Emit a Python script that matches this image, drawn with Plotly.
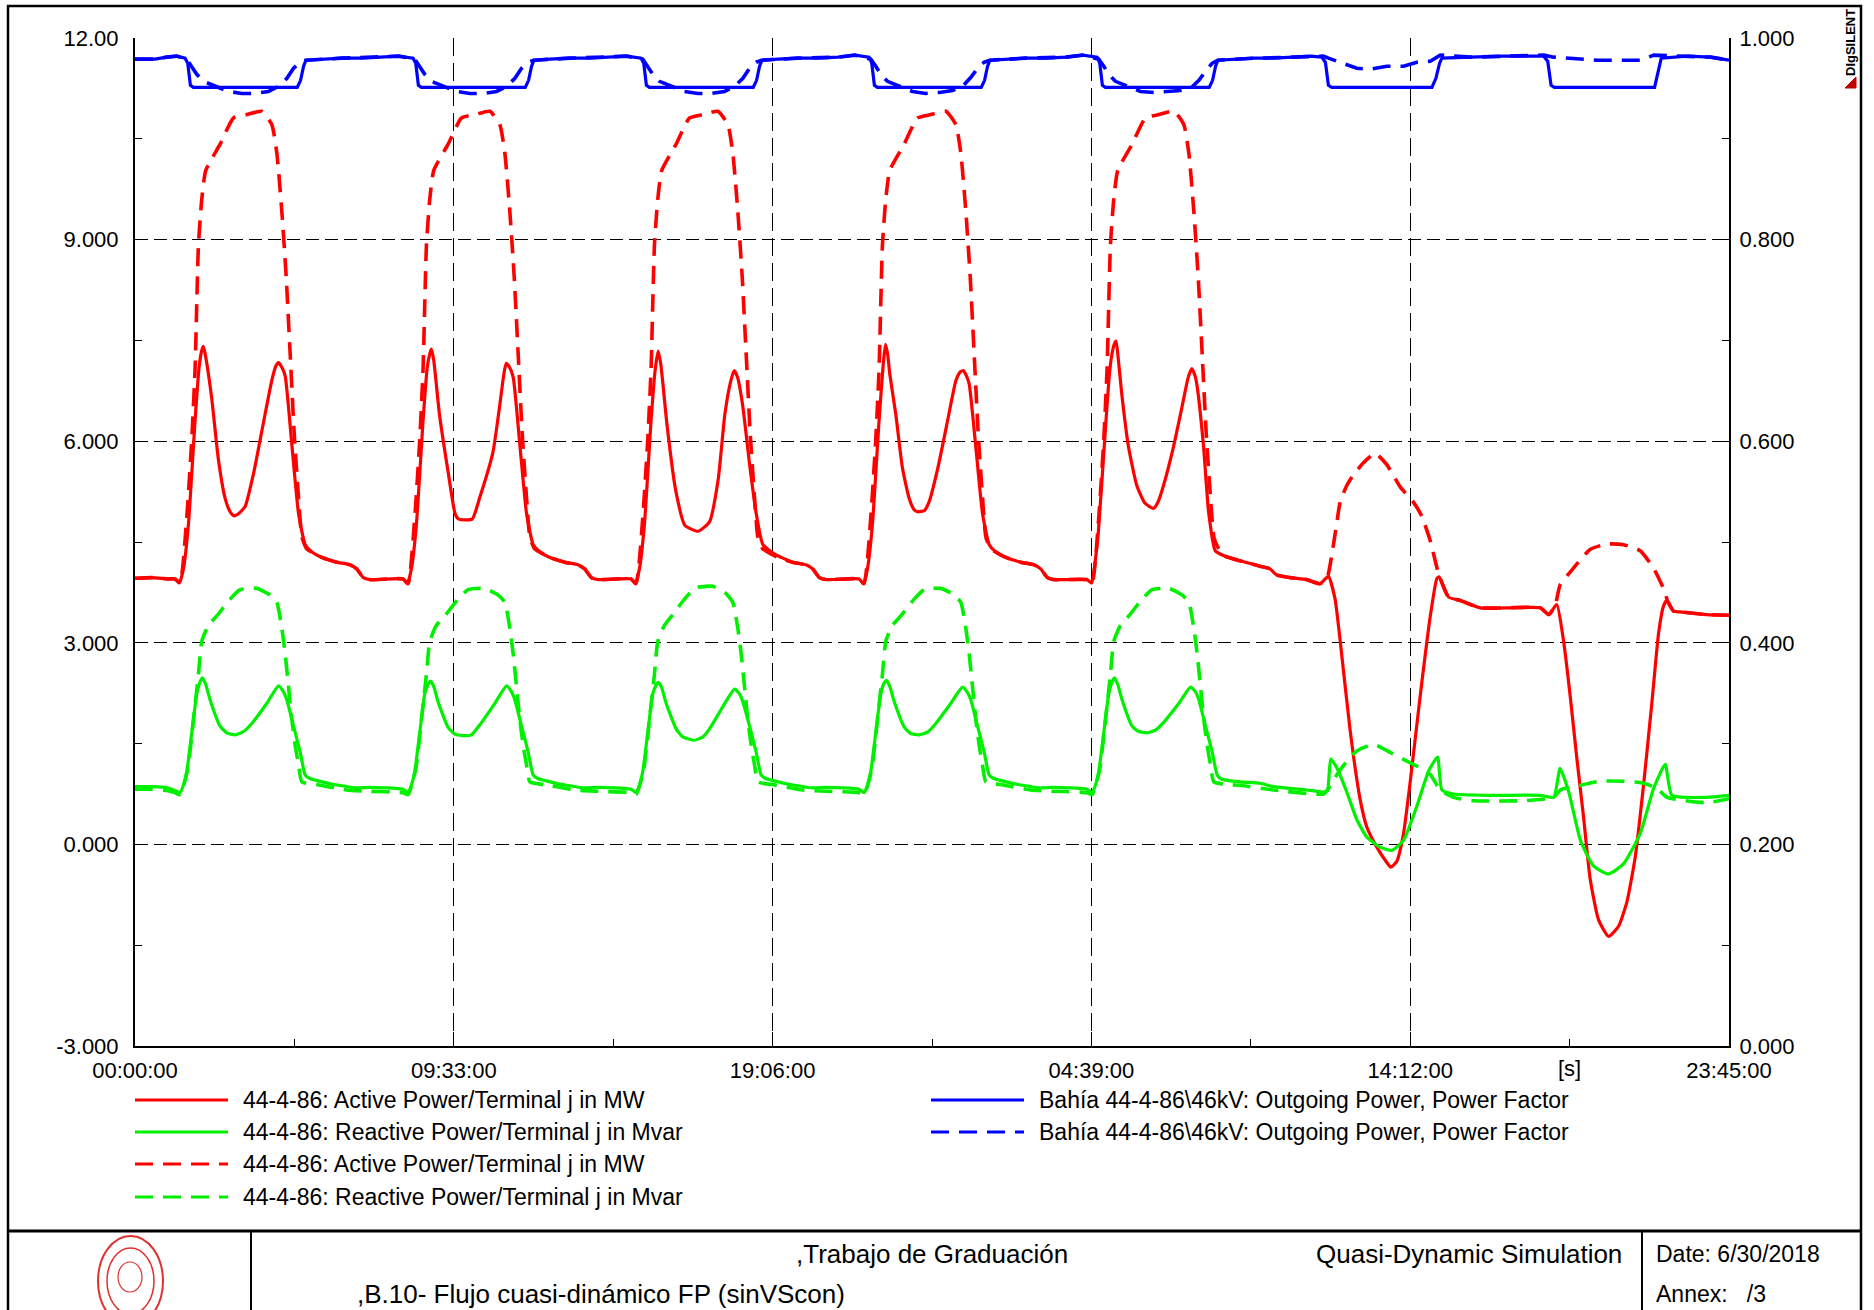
import plotly.graph_objects as go

# ---------------- axis tick definitions (time in hours from start) ----------------
x_tick_hours = [0, 9.55, 19.10, 28.65, 38.20, 47.75]
x_tick_labels = ["00:00:00", "09:33:00", "19:06:00", "04:39:00", "14:12:00", "23:45:00"]
x_minor_hours = [4.775, 14.325, 23.875, 33.425, 42.975]
y_left_ticks = [-3, 0, 3, 6, 9, 12]
y_left_labels = ["-3.000", "0.000", "3.000", "6.000", "9.000", "12.00"]
y_left_minor = [-1.5, 1.5, 4.5, 7.5, 10.5]
y_right_ticks = [0, 0.2, 0.4, 0.6, 0.8, 1.0]
y_right_labels = ["0.000", "0.200", "0.400", "0.600", "0.800", "1.000"]
y_right_minor = [0.1, 0.3, 0.5, 0.7, 0.9]

# ---------------- series (hours, value) ----------------
active_solid = [
    (0.00, 3.96), (0.50, 3.97), (1.00, 3.95),
    (1.20, 3.95), (1.33, 3.89), (1.45, 4.10), (1.60, 4.76), (1.80, 6.31), (1.92, 7.10), (2.00, 7.35), (2.05, 7.41),
    (2.12, 7.25), (2.30, 6.63), (2.50, 5.72), (2.70, 5.15), (2.85, 4.95), (2.96, 4.89), (3.10, 4.92), (3.30, 5.03),
    (3.56, 5.54), (3.83, 6.23), (4.10, 6.91), (4.22, 7.12), (4.30, 7.17), (4.40, 7.10), (4.50, 6.97), (4.70, 5.94),
    (4.90, 4.92), (5.10, 4.46), (5.30, 4.35), (5.60, 4.27), (6.04, 4.20), (6.44, 4.16), (6.64, 4.10), (6.84, 3.97),
    (7.04, 3.94),
    (8.03, 3.95), (8.16, 3.88), (8.28, 4.10), (8.43, 4.76), (8.63, 6.31), (8.75, 7.08), (8.83, 7.30), (8.88, 7.37),
    (8.95, 7.20), (9.12, 6.40), (9.38, 5.54), (9.59, 4.92), (9.70, 4.84), (10.10, 4.84), (10.32, 5.15), (10.72, 5.83),
    (10.92, 6.51), (11.05, 7.00), (11.12, 7.16), (11.22, 7.10), (11.33, 6.95), (11.53, 5.94), (11.73, 4.92),
    (11.93, 4.46), (12.13, 4.35), (12.43, 4.27), (12.87, 4.20), (13.27, 4.16), (13.47, 4.10), (13.67, 3.97),
    (13.87, 3.94),
    (14.86, 3.95), (14.99, 3.88), (15.11, 4.10), (15.26, 4.76), (15.46, 6.31), (15.58, 7.05), (15.67, 7.34),
    (15.75, 7.15), (15.94, 6.23), (16.20, 5.26), (16.47, 4.75), (16.87, 4.66), (17.21, 4.80), (17.47, 5.43),
    (17.67, 6.40), (17.85, 6.90), (17.95, 7.05), (18.05, 6.95), (18.21, 6.51), (18.41, 5.66), (18.61, 4.92),
    (18.81, 4.46), (19.16, 4.32), (19.70, 4.20), (20.10, 4.16), (20.30, 4.10), (20.50, 3.97), (20.70, 3.94),
    (21.69, 3.95), (21.82, 3.88), (21.94, 4.10), (22.09, 4.76), (22.29, 6.31), (22.41, 7.12), (22.48, 7.44),
    (22.55, 7.28), (22.61, 7.00), (22.79, 6.40), (22.99, 5.60), (23.19, 5.15), (23.34, 4.98), (23.45, 4.95),
    (23.65, 4.97), (23.79, 5.10), (24.05, 5.60), (24.32, 6.25), (24.59, 6.90), (24.72, 7.03), (24.81, 7.05),
    (24.90, 6.98), (24.99, 6.85), (25.19, 5.90), (25.39, 4.92), (25.59, 4.46), (25.79, 4.35), (26.09, 4.27),
    (26.53, 4.20), (26.93, 4.16), (27.13, 4.10), (27.33, 3.97), (27.53, 3.94),
    (28.52, 3.94), (28.66, 3.89), (28.76, 4.20), (28.86, 4.66), (29.06, 6.11), (29.18, 6.95), (29.26, 7.28),
    (29.34, 7.45), (29.39, 7.49), (29.46, 7.20), (29.56, 6.70), (29.76, 5.92), (30.01, 5.34), (30.25, 5.08),
    (30.51, 5.00), (30.65, 5.10), (30.81, 5.34), (31.11, 5.92), (31.36, 6.50), (31.55, 6.95), (31.66, 7.08),
    (31.75, 6.98), (31.81, 6.84), (32.01, 5.92), (32.16, 4.95), (32.36, 4.37), (32.60, 4.30), (33.10, 4.22),
    (33.70, 4.14), (34.00, 4.10), (34.20, 4.01), (34.60, 3.97), (35.10, 3.94), (35.50, 3.88),
    (35.75, 3.99), (35.95, 3.65), (36.10, 3.04), (36.40, 1.70), (36.70, 0.67), (36.90, 0.26), (37.20, -0.04),
    (37.50, -0.27), (37.62, -0.34), (37.80, -0.25), (38.00, 0.16), (38.20, 0.93), (38.50, 2.21), (38.80, 3.39),
    (39.00, 3.96), (39.07, 3.98), (39.35, 3.68), (39.70, 3.63), (40.30, 3.52), (41.10, 3.52), (42.10, 3.52),
    (42.35, 3.42), (42.59, 3.57), (42.79, 3.04), (42.99, 2.22), (43.19, 1.29), (43.39, 0.42), (43.59, -0.51),
    (43.84, -1.12), (44.14, -1.37), (44.44, -1.22), (44.69, -0.86), (44.94, -0.19), (45.19, 0.88), (45.44, 2.11),
    (45.64, 3.14), (45.79, 3.55), (45.89, 3.63), (46.09, 3.47), (46.29, 3.46), (47.08, 3.42), (47.75, 3.41),
]

reactive_solid = [
    (0.00, 0.86), (0.50, 0.86), (1.00, 0.84),
    (1.20, 0.80), (1.35, 0.77), (1.45, 0.88), (1.55, 1.08), (1.70, 1.66), (1.85, 2.24), (1.95, 2.42), (2.02, 2.48),
    (2.12, 2.38), (2.25, 2.15), (2.55, 1.76), (2.75, 1.66), (3.00, 1.63), (3.25, 1.68), (3.50, 1.80), (3.95, 2.10),
    (4.30, 2.36), (4.45, 2.27), (4.55, 2.15), (4.75, 1.76), (4.95, 1.37), (5.10, 1.03), (5.24, 0.98), (5.70, 0.92),
    (6.10, 0.88), (6.65, 0.84), (7.04, 0.85),
    (8.03, 0.82), (8.18, 0.77), (8.28, 0.88), (8.38, 1.08), (8.53, 1.66), (8.68, 2.24), (8.78, 2.38), (8.85, 2.43),
    (8.95, 2.35), (9.08, 2.12), (9.38, 1.74), (9.58, 1.64), (9.83, 1.62), (10.08, 1.63), (10.33, 1.78), (10.78, 2.10),
    (11.13, 2.36), (11.28, 2.27), (11.38, 2.15), (11.58, 1.76), (11.78, 1.37), (11.93, 1.03), (12.07, 0.98),
    (12.53, 0.92), (12.93, 0.88), (13.48, 0.84), (13.87, 0.85),
    (14.86, 0.82), (15.01, 0.77), (15.11, 0.88), (15.21, 1.08), (15.36, 1.66), (15.51, 2.24), (15.61, 2.37),
    (15.68, 2.41), (15.78, 2.33), (15.91, 2.10), (16.21, 1.72), (16.41, 1.60), (16.76, 1.55), (17.01, 1.60),
    (17.21, 1.72), (17.61, 2.05), (17.96, 2.31), (18.11, 2.24), (18.21, 2.12), (18.41, 1.76), (18.61, 1.37),
    (18.76, 1.03), (18.90, 0.98), (19.36, 0.92), (19.76, 0.88), (20.31, 0.84), (20.70, 0.85),
    (21.69, 0.82), (21.84, 0.77), (21.94, 0.88), (22.04, 1.08), (22.19, 1.66), (22.34, 2.24), (22.44, 2.40),
    (22.51, 2.44), (22.61, 2.35), (22.74, 2.13), (23.04, 1.75), (23.24, 1.65), (23.49, 1.63), (23.74, 1.67),
    (23.99, 1.80), (24.44, 2.10), (24.79, 2.34), (24.94, 2.26), (25.04, 2.15), (25.24, 1.76), (25.44, 1.37),
    (25.59, 1.03), (25.73, 0.98), (26.19, 0.92), (26.59, 0.88), (27.14, 0.84), (27.53, 0.85),
    (28.52, 0.82), (28.67, 0.77), (28.77, 0.88), (28.87, 1.08), (29.02, 1.66), (29.17, 2.24), (29.27, 2.42),
    (29.34, 2.48), (29.44, 2.38), (29.57, 2.15), (29.87, 1.76), (30.07, 1.68), (30.32, 1.66), (30.57, 1.70),
    (30.82, 1.82), (31.27, 2.10), (31.62, 2.34), (31.77, 2.27), (31.87, 2.15), (32.07, 1.76), (32.27, 1.37),
    (32.42, 1.03), (32.56, 0.97), (33.10, 0.93), (33.70, 0.91), (34.10, 0.86), (35.10, 0.81), (35.60, 0.78),
    (35.72, 0.80), (35.82, 1.27), (36.00, 1.14), (36.30, 0.78), (36.60, 0.37), (36.90, 0.11), (37.30, -0.04),
    (37.65, -0.09), (38.00, 0.06), (38.40, 0.57), (38.75, 1.09), (39.02, 1.30), (39.15, 0.81), (39.50, 0.75),
    (40.60, 0.73), (42.10, 0.73), (42.50, 0.70), (42.69, 1.13), (42.95, 0.78), (43.30, 0.06), (43.69, -0.32),
    (44.14, -0.44), (44.59, -0.29), (45.09, 0.16), (45.49, 0.83), (45.84, 1.19), (46.04, 0.73), (47.08, 0.70),
    (47.75, 0.73),
]

active_dashed = [
    (0.00, 3.96), (0.50, 3.97), (1.00, 3.95),
    (1.20, 3.95), (1.35, 3.89), (1.55, 4.86), (1.70, 6.02), (1.80, 7.08), (1.85, 8.05), (1.90, 8.92), (2.00, 9.60),
    (2.12, 10.03), (2.55, 10.42), (2.95, 10.81), (3.35, 10.86), (3.80, 10.91), (4.10, 10.71), (4.25, 10.28),
    (4.40, 9.41), (4.53, 8.44), (4.65, 7.28), (4.77, 6.11), (4.90, 5.15), (5.00, 4.57), (5.14, 4.40), (5.30, 4.35),
    (5.60, 4.27), (6.04, 4.20), (6.44, 4.16), (6.64, 4.10), (6.84, 3.97), (7.04, 3.94),
    (8.03, 3.95), (8.18, 3.88), (8.38, 4.86), (8.53, 6.02), (8.63, 7.08), (8.68, 8.05), (8.73, 8.92), (8.83, 9.60),
    (8.95, 10.03), (9.38, 10.42), (9.78, 10.81), (10.18, 10.86), (10.63, 10.91), (10.93, 10.71), (11.08, 10.28),
    (11.23, 9.41), (11.36, 8.44), (11.48, 7.28), (11.60, 6.11), (11.73, 5.15), (11.83, 4.57), (11.97, 4.40),
    (12.13, 4.35), (12.43, 4.27), (12.87, 4.20), (13.27, 4.16), (13.47, 4.10), (13.67, 3.97), (13.87, 3.94),
    (14.86, 3.95), (15.01, 3.88), (15.21, 4.86), (15.36, 6.02), (15.46, 7.08), (15.51, 8.05), (15.56, 8.92),
    (15.66, 9.60), (15.78, 10.03), (16.21, 10.42), (16.61, 10.81), (17.01, 10.86), (17.46, 10.91), (17.76, 10.71),
    (17.91, 10.28), (18.06, 9.41), (18.19, 8.44), (18.31, 7.28), (18.43, 6.11), (18.56, 5.15), (18.66, 4.57),
    (18.80, 4.40), (18.96, 4.35), (19.26, 4.27), (19.70, 4.20), (20.10, 4.16), (20.30, 4.10), (20.50, 3.97),
    (20.70, 3.94),
    (21.69, 3.95), (21.84, 3.88), (22.04, 4.86), (22.19, 6.02), (22.29, 7.08), (22.34, 8.05), (22.39, 8.92),
    (22.49, 9.60), (22.61, 10.03), (23.04, 10.42), (23.44, 10.81), (23.84, 10.86), (24.29, 10.91), (24.59, 10.71),
    (24.74, 10.28), (24.89, 9.41), (25.02, 8.44), (25.14, 7.28), (25.26, 6.11), (25.39, 5.15), (25.49, 4.57),
    (25.63, 4.40), (25.79, 4.35), (26.09, 4.27), (26.53, 4.20), (26.93, 4.16), (27.13, 4.10), (27.33, 3.97),
    (27.53, 3.94),
    (28.52, 3.94), (28.67, 3.89), (28.87, 4.86), (29.02, 6.02), (29.12, 7.08), (29.17, 8.05), (29.22, 8.92),
    (29.32, 9.60), (29.44, 10.03), (29.87, 10.42), (30.27, 10.81), (30.67, 10.86), (31.12, 10.91), (31.42, 10.71),
    (31.57, 10.28), (31.72, 9.41), (31.85, 8.44), (31.97, 7.28), (32.09, 6.11), (32.22, 5.15), (32.32, 4.57),
    (32.46, 4.40), (32.60, 4.30), (33.10, 4.22), (33.70, 4.14), (34.00, 4.10), (34.20, 4.01), (34.60, 3.97),
    (35.10, 3.94), (35.50, 3.88),
    (35.72, 3.98), (35.85, 4.30), (36.00, 4.78), (36.10, 5.09), (36.30, 5.34), (36.50, 5.50), (36.80, 5.68),
    (37.15, 5.82), (37.50, 5.65), (37.90, 5.32), (38.30, 5.09), (38.55, 4.88), (38.80, 4.52), (39.05, 4.03),
    (39.35, 3.68), (39.70, 3.63), (40.30, 3.52), (41.10, 3.52), (42.10, 3.52), (42.35, 3.42), (42.54, 3.55),
    (42.69, 3.86), (43.09, 4.11), (43.59, 4.39), (44.09, 4.47), (44.59, 4.46), (45.09, 4.37), (45.49, 4.11),
    (45.84, 3.75), (45.90, 3.63), (46.09, 3.47), (46.29, 3.46), (47.08, 3.42), (47.75, 3.41),
]

reactive_dashed = [
    (0.00, 0.82), (0.50, 0.82), (1.00, 0.80),
    (1.20, 0.77), (1.35, 0.74), (1.50, 0.95), (1.60, 1.18), (1.75, 1.85), (1.90, 2.53), (2.00, 3.02), (2.20, 3.26),
    (2.45, 3.40), (2.85, 3.65), (3.15, 3.79), (3.65, 3.81), (4.05, 3.71), (4.25, 3.60), (4.40, 3.21), (4.50, 2.83),
    (4.60, 2.34), (4.70, 1.85), (4.80, 1.47), (4.90, 1.18), (5.00, 0.93), (5.44, 0.89), (6.34, 0.81), (7.04, 0.79),
    (8.03, 0.77), (8.18, 0.74), (8.33, 0.95), (8.43, 1.18), (8.58, 1.85), (8.73, 2.53), (8.83, 3.02), (9.03, 3.26),
    (9.28, 3.40), (9.68, 3.65), (9.98, 3.79), (10.48, 3.81), (10.88, 3.71), (11.08, 3.60), (11.23, 3.21),
    (11.33, 2.83), (11.43, 2.34), (11.53, 1.85), (11.63, 1.47), (11.73, 1.18), (11.83, 0.93), (12.27, 0.89),
    (13.17, 0.81), (13.87, 0.79),
    (14.86, 0.77), (15.01, 0.74), (15.16, 0.95), (15.26, 1.18), (15.41, 1.85), (15.56, 2.53), (15.66, 3.02),
    (15.86, 3.26), (16.11, 3.42), (16.51, 3.68), (16.81, 3.82), (17.31, 3.84), (17.71, 3.73), (17.91, 3.60),
    (18.06, 3.21), (18.16, 2.83), (18.26, 2.34), (18.36, 1.85), (18.46, 1.47), (18.56, 1.18), (18.66, 0.93),
    (19.10, 0.89), (20.00, 0.81), (20.70, 0.79),
    (21.69, 0.77), (21.84, 0.74), (21.99, 0.95), (22.09, 1.18), (22.24, 1.85), (22.39, 2.53), (22.49, 3.02),
    (22.69, 3.26), (22.94, 3.40), (23.34, 3.65), (23.64, 3.79), (24.14, 3.81), (24.54, 3.71), (24.74, 3.60),
    (24.89, 3.21), (24.99, 2.83), (25.09, 2.34), (25.19, 1.85), (25.29, 1.47), (25.39, 1.18), (25.49, 0.93),
    (25.93, 0.89), (26.83, 0.81), (27.53, 0.79),
    (28.52, 0.77), (28.67, 0.74), (28.82, 0.95), (28.92, 1.18), (29.07, 1.85), (29.22, 2.53), (29.32, 3.02),
    (29.52, 3.26), (29.77, 3.40), (30.17, 3.65), (30.47, 3.79), (30.97, 3.81), (31.37, 3.71), (31.57, 3.60),
    (31.72, 3.21), (31.82, 2.83), (31.92, 2.34), (32.02, 1.85), (32.12, 1.47), (32.22, 1.18), (32.32, 0.93),
    (32.76, 0.89), (33.10, 0.88), (34.10, 0.81), (35.60, 0.75),
    (35.75, 0.83), (36.10, 1.11), (36.60, 1.39), (37.10, 1.49), (37.60, 1.37), (38.10, 1.24), (38.50, 1.14),
    (38.80, 1.04), (39.10, 0.81), (39.50, 0.70), (40.10, 0.65), (41.60, 0.65), (42.50, 0.70), (42.70, 0.81),
    (43.30, 0.88), (43.90, 0.94), (44.60, 0.94), (45.20, 0.91), (45.60, 0.83), (45.90, 0.70), (47.08, 0.62),
    (47.75, 0.68),
]

pf_solid = [
    (0.00, 0.979), (0.60, 0.979), (0.95, 0.981), (1.25, 0.982), (1.50, 0.980), (1.58, 0.975), (1.66, 0.953),
    (1.75, 0.951), (3.00, 0.951), (4.86, 0.951), (4.96, 0.958), (5.05, 0.972), (5.12, 0.978), (5.60, 0.979),
    (6.20, 0.980), (6.80, 0.980), (7.40, 0.981), (7.90, 0.982),
    (8.33, 0.980), (8.41, 0.975), (8.49, 0.953), (8.58, 0.951), (11.69, 0.951), (11.79, 0.958), (11.88, 0.972),
    (11.95, 0.978), (12.43, 0.979), (13.03, 0.980), (13.63, 0.980), (14.23, 0.981), (14.73, 0.982),
    (15.16, 0.980), (15.24, 0.975), (15.32, 0.953), (15.41, 0.951), (18.52, 0.951), (18.62, 0.958), (18.71, 0.972),
    (18.78, 0.978), (19.26, 0.979), (19.86, 0.980), (20.46, 0.980), (21.06, 0.981), (21.56, 0.983),
    (21.99, 0.981), (22.07, 0.975), (22.15, 0.953), (22.24, 0.951), (25.35, 0.951), (25.45, 0.958), (25.54, 0.972),
    (25.61, 0.978), (26.09, 0.979), (26.69, 0.980), (27.29, 0.980), (27.89, 0.981), (28.39, 0.983),
    (28.82, 0.981), (28.90, 0.975), (28.98, 0.953), (29.07, 0.951), (32.18, 0.951), (32.28, 0.958), (32.37, 0.972),
    (32.44, 0.978), (32.92, 0.979), (33.52, 0.980), (34.12, 0.980), (34.72, 0.981), (35.22, 0.982),
    (35.55, 0.981), (35.66, 0.976), (35.75, 0.953), (35.85, 0.951), (38.85, 0.951), (38.97, 0.960), (39.08, 0.975),
    (39.15, 0.980), (40.00, 0.981), (41.00, 0.982), (42.20, 0.982), (42.32, 0.977), (42.42, 0.953), (42.52, 0.951),
    (45.52, 0.951), (45.62, 0.965), (45.72, 0.980), (46.50, 0.982), (47.20, 0.981), (47.75, 0.978),
]

pf_dashed = [
    (0.00, 0.979), (0.60, 0.979), (0.95, 0.981), (1.25, 0.982), (1.55, 0.979), (1.70, 0.972), (1.85, 0.964),
    (2.05, 0.957), (2.40, 0.952), (2.80, 0.947), (3.20, 0.945), (3.60, 0.945), (4.00, 0.947), (4.30, 0.952),
    (4.55, 0.960), (4.75, 0.970), (4.95, 0.976), (5.12, 0.978), (6.20, 0.980), (7.40, 0.981), (7.90, 0.982),
    (8.38, 0.979), (8.53, 0.972), (8.68, 0.964), (8.88, 0.957), (9.23, 0.952), (9.63, 0.947), (10.03, 0.945),
    (10.43, 0.945), (10.83, 0.947), (11.13, 0.952), (11.38, 0.960), (11.58, 0.970), (11.78, 0.976), (11.95, 0.978),
    (13.03, 0.980), (14.23, 0.981), (14.73, 0.982),
    (15.21, 0.979), (15.36, 0.972), (15.51, 0.964), (15.71, 0.957), (16.06, 0.952), (16.46, 0.947), (16.86, 0.945),
    (17.26, 0.945), (17.66, 0.947), (17.96, 0.952), (18.21, 0.960), (18.41, 0.970), (18.61, 0.976), (18.78, 0.978),
    (19.86, 0.980), (21.06, 0.981), (21.56, 0.983),
    (22.04, 0.979), (22.19, 0.972), (22.34, 0.964), (22.54, 0.957), (22.89, 0.952), (23.29, 0.947), (23.69, 0.945),
    (24.09, 0.946), (24.49, 0.948), (24.79, 0.952), (25.04, 0.961), (25.24, 0.970), (25.44, 0.976), (25.61, 0.978),
    (26.69, 0.980), (27.89, 0.981), (28.39, 0.983),
    (28.87, 0.979), (29.02, 0.972), (29.17, 0.964), (29.37, 0.957), (29.72, 0.952), (30.12, 0.947), (30.52, 0.946),
    (30.92, 0.947), (31.32, 0.948), (31.62, 0.950), (31.87, 0.958), (32.07, 0.967), (32.27, 0.975), (32.44, 0.978),
    (33.52, 0.980), (34.72, 0.981), (35.22, 0.982),
    (35.60, 0.982), (35.75, 0.980), (36.00, 0.977), (36.20, 0.975), (36.60, 0.970), (37.00, 0.969), (37.50, 0.972),
    (38.00, 0.972), (38.40, 0.976), (38.80, 0.977), (39.10, 0.983), (40.00, 0.981), (41.00, 0.982), (42.20, 0.983),
    (42.50, 0.981), (43.00, 0.980), (43.80, 0.978), (44.30, 0.978), (44.70, 0.978), (45.10, 0.978), (45.50, 0.983),
    (46.50, 0.982), (47.20, 0.981), (47.75, 0.978),
]

names = {
    "p": "44-4-86: Active Power/Terminal j in MW",
    "q": "44-4-86: Reactive Power/Terminal j in Mvar",
    "pf": "Bahía 44-4-86\\46kV: Outgoing Power, Power Factor",
}

RED, GREEN, BLUE = "#FF0000", "#00F000", "#0000FF"
FONT = "Arial, Liberation Sans, sans-serif"
DASH = "18px,10px"

# ---------------- figure geometry (pixels) ----------------
W, H = 1874, 1310
PL, PR, PT, PB = 135, 1729, 38, 1046


def fx(px):
    return (px - PL) / (PR - PL)


def fy(py):
    return (PB - py) / (PB - PT)


def unzip(pairs):
    return [p[0] for p in pairs], [p[1] for p in pairs]


fig = go.Figure()

series = [
    (active_solid, names["p"], RED, "solid", 3.2, "y", "spline"),
    (reactive_solid, names["q"], GREEN, "solid", 3.2, "y", "spline"),
    (active_dashed, names["p"], RED, DASH, 3.6, "y", "spline"),
    (reactive_dashed, names["q"], GREEN, DASH, 3.6, "y", "spline"),
    (pf_solid, names["pf"], BLUE, "solid", 3.2, "y2", "linear"),
    (pf_dashed, names["pf"], BLUE, DASH, 3.6, "y2", "linear"),
]
for pairs, nm, col, dash, w, yax, shp in series:
    xs, ys = unzip(pairs)
    line = dict(color=col, width=w, dash=dash, shape=shp)
    if shp == "spline":
        line["smoothing"] = 0.5
    fig.add_trace(go.Scatter(x=xs, y=ys, mode="lines", name=nm, line=line,
                             yaxis=yax, showlegend=False, hoverinfo="skip"))

shapes = []
annotations = []

# outer frame and title block
shapes.append(dict(type="rect", xref="paper", yref="paper", x0=fx(8), x1=fx(1861), y0=fy(1340), y1=fy(6),
                   line=dict(color="black", width=2.5), layer="below"))
shapes.append(dict(type="line", xref="paper", yref="paper", x0=fx(8), x1=fx(1861), y0=fy(1231), y1=fy(1231),
                   line=dict(color="black", width=3)))
for vx in (251, 1642):
    shapes.append(dict(type="line", xref="paper", yref="paper", x0=fx(vx), x1=fx(vx), y0=fy(1231), y1=fy(1340),
                       line=dict(color="black", width=2)))

# university seal (simplified)
shapes.append(dict(type="circle", xref="paper", yref="paper", x0=fx(98), x1=fx(163), y0=fy(1326), y1=fy(1236),
                   line=dict(color="#E03030", width=2)))
shapes.append(dict(type="circle", xref="paper", yref="paper", x0=fx(107), x1=fx(154), y0=fy(1314), y1=fy(1248),
                   line=dict(color="#E03030", width=1.5)))
shapes.append(dict(type="circle", xref="paper", yref="paper", x0=fx(118), x1=fx(142), y0=fy(1292), y1=fy(1262),
                   line=dict(color="#E03030", width=1.2)))

# DIgSILENT marker triangle
tri = "M {a},{b} L {c},{d} L {e},{f} Z".format(a=fx(1856), b=fy(77), c=fx(1856), d=fy(88), e=fx(1845), f=fy(88))
shapes.append(dict(type="path", xref="paper", yref="paper", path=tri, fillcolor="#C00000",
                   line=dict(color="#C00000", width=1)))
annotations.append(dict(xref="paper", yref="paper", x=fx(1851), y=fy(42), text="<b>DIgSILENT</b>",
                        textangle=-90, showarrow=False, font=dict(family=FONT, size=13, color="black"),
                        xanchor="center", yanchor="middle"))

# legend (drawn manually to match the two-column layout)
legend_left = [(names["p"], RED, "solid"), (names["q"], GREEN, "solid"),
               (names["p"], RED, DASH), (names["q"], GREEN, DASH)]
legend_right = [(names["pf"], BLUE, "solid"), (names["pf"], BLUE, DASH)]
rows_y = [1100, 1132, 1164, 1197]
leg_font = dict(family=FONT, size=23, color="black")
for (txt, col, dash), ry in zip(legend_left, rows_y):
    shapes.append(dict(type="line", xref="paper", yref="paper", x0=fx(135), x1=fx(228), y0=fy(ry), y1=fy(ry),
                       line=dict(color=col, width=3, dash=dash)))
    annotations.append(dict(xref="paper", yref="paper", x=fx(241), y=fy(ry), text=txt, showarrow=False,
                            xanchor="left", yanchor="middle", font=leg_font))
for (txt, col, dash), ry in zip(legend_right, rows_y[:2]):
    shapes.append(dict(type="line", xref="paper", yref="paper", x0=fx(931), x1=fx(1024), y0=fy(ry), y1=fy(ry),
                       line=dict(color=col, width=3, dash=dash)))
    annotations.append(dict(xref="paper", yref="paper", x=fx(1037), y=fy(ry), text=txt, showarrow=False,
                            xanchor="left", yanchor="middle", font=leg_font))

# title-block texts
tb_font = dict(family=FONT, size=26, color="black")
small_font = dict(family=FONT, size=23, color="black")
annotations += [
    dict(xref="paper", yref="paper", x=fx(932), y=fy(1254), text=",Trabajo de Graduación", showarrow=False,
         xanchor="center", yanchor="middle", font=tb_font),
    dict(xref="paper", yref="paper", x=fx(355), y=fy(1294), text=",B.10- Flujo cuasi-dinámico FP (sinVScon)",
         showarrow=False, xanchor="left", yanchor="middle", font=tb_font),
    dict(xref="paper", yref="paper", x=fx(1624), y=fy(1254), text="Quasi-Dynamic Simulation", showarrow=False,
         xanchor="right", yanchor="middle", font=tb_font),
    dict(xref="paper", yref="paper", x=fx(1654), y=fy(1254), text="Date: 6/30/2018", showarrow=False,
         xanchor="left", yanchor="middle", font=small_font),
    dict(xref="paper", yref="paper", x=fx(1654), y=fy(1294), text="Annex:   /3", showarrow=False,
         xanchor="left", yanchor="middle", font=small_font),
]

tick_font = dict(family=FONT, size=22, color="black")

# unit label on the time axis
annotations.append(dict(xref="x", yref="paper", x=x_minor_hours[-1], y=fy(1068), text="[s]", showarrow=False,
                        xanchor="center", yanchor="middle", font=tick_font))

fig.update_layout(
    width=W, height=H, autosize=False,
    margin=dict(l=PL, r=W - PR, t=PT, b=H - PB, pad=0),
    paper_bgcolor="white", plot_bgcolor="white",
    showlegend=False,
    shapes=shapes, annotations=annotations,
    xaxis=dict(range=[0, 47.75], tickmode="array", tickvals=x_tick_hours, ticktext=x_tick_labels,
               ticks="inside", ticklen=14, tickwidth=1, tickcolor="black", tickfont=tick_font,
               showline=True, linecolor="black", linewidth=2, zeroline=False,
               showgrid=True, gridcolor="black", gridwidth=1, griddash="18px,7px",
               minor=dict(tickmode="array", tickvals=x_minor_hours, ticks="inside", ticklen=7,
                          tickcolor="black", tickwidth=1, showgrid=False),
               ticklabelstandoff=4, fixedrange=True),
    yaxis=dict(range=[-3, 12], tickmode="array", tickvals=y_left_ticks, ticktext=y_left_labels,
               ticks="inside", ticklen=12, tickwidth=1, tickcolor="black", tickfont=tick_font,
               showline=True, linecolor="black", linewidth=2, zeroline=False,
               showgrid=True, gridcolor="black", gridwidth=1, griddash="13px,6px",
               minor=dict(tickmode="array", tickvals=y_left_minor, ticks="inside", ticklen=7,
                          tickcolor="black", tickwidth=1, showgrid=False),
               ticklabelstandoff=10, fixedrange=True),
    yaxis2=dict(range=[0, 1], overlaying="y", side="right", tickmode="array", tickvals=y_right_ticks,
                ticktext=y_right_labels, ticks="inside", ticklen=12, tickwidth=1, tickcolor="black",
                tickfont=tick_font, showline=True, linecolor="black", linewidth=2, zeroline=False,
                showgrid=False,
                minor=dict(tickmode="array", tickvals=y_right_minor, ticks="inside", ticklen=7,
                           tickcolor="black", tickwidth=1, showgrid=False),
                ticklabelstandoff=4, fixedrange=True),
)

fig.write_html("out.html", config={"displayModeBar": False},
               post_script="document.body.style.margin='0';document.body.style.overflow='hidden';")
